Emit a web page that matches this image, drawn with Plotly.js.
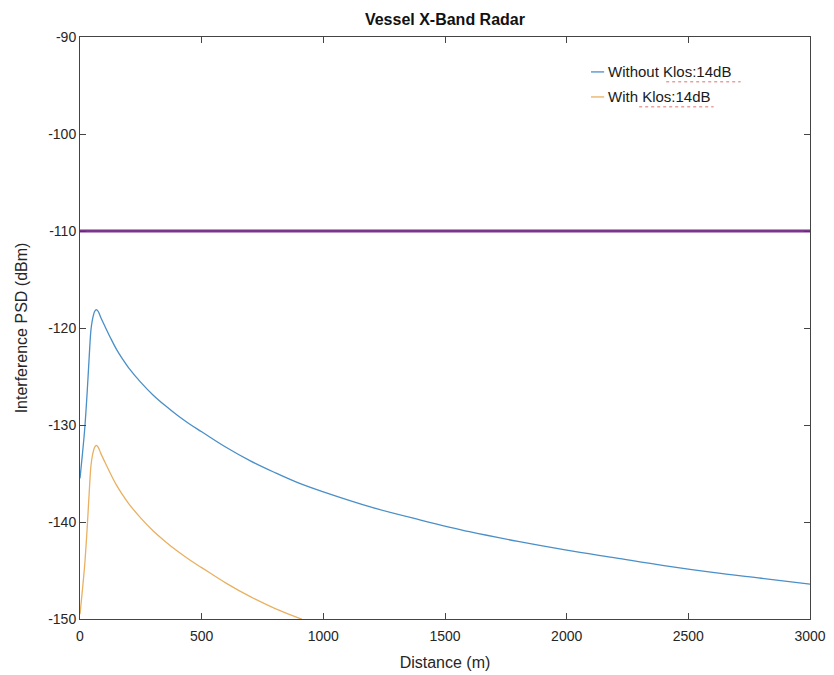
<!DOCTYPE html>
<html>
<head>
<meta charset="utf-8">
<script src="https://cdn.plot.ly/plotly-3.0.1.min.js"></script>
<style>html,body{margin:0;padding:0;background:#fff;}#chart{width:834px;height:675px;}</style>
</head>
<body>
<div id="chart"></div>
<script>
// Data
const distance = [0, 10, 20, 30, 40, 45, 50, 55, 60, 67, 75, 85, 100, 125, 150, 175, 200, 250, 300, 350, 400, 450, 500, 600, 700, 800, 900, 1000, 1200, 1400, 1600, 1800, 2000, 2200, 2400, 2600, 2800, 3000];
const withoutKlos = [-135.5, -133.0, -130.2, -126.4, -122.0, -120.2, -119.3, -118.7, -118.3, -118.1, -118.3, -118.9, -119.7, -121.0, -122.2, -123.2, -124.1, -125.6, -126.9, -128.0, -129.0, -129.9, -130.7, -132.3, -133.7, -134.9, -136.0, -136.9, -138.5, -139.8, -141.0, -142.0, -142.9, -143.7, -144.5, -145.2, -145.8, -146.4];
const distanceWith = [0, 10, 20, 30, 40, 45, 50, 55, 60, 67, 75, 85, 100, 125, 150, 175, 200, 250, 300, 350, 400, 450, 500, 600, 700, 800, 900, 912];
const withKlos = [-149.5, -147.0, -144.2, -140.4, -136.0, -134.2, -133.3, -132.7, -132.3, -132.1, -132.3, -132.9, -133.7, -135.0, -136.2, -137.2, -138.1, -139.6, -140.9, -142.0, -143.0, -143.9, -144.7, -146.3, -147.7, -148.9, -149.9, -150.0];
const thresholdX = [0, 3000];
const thresholdY = [-110, -110];
const seriesNames = ["Without Klos:14dB", "With Klos:14dB"];
const xTicks = [0, 500, 1000, 1500, 2000, 2500, 3000];
const yTicks = [-150, -140, -130, -120, -110, -100, -90];

const colBlue = "#4a8fc7", colOrange = "#e9b062", colPurple = "#7b358b";
const font = "Liberation Sans, Arial, Helvetica, sans-serif";

const traces = [
  {x: distance, y: withoutKlos, name: seriesNames[0], mode: "lines", line: {color: colBlue, width: 1.3, shape: "spline", smoothing: 1}},
  {x: distanceWith, y: withKlos, name: seriesNames[1], mode: "lines", line: {color: colOrange, width: 1.3, shape: "spline", smoothing: 1}},
  {x: thresholdX, y: thresholdY, name: "threshold", mode: "lines", line: {color: colPurple, width: 3}}
];

// legend drawn manually (MATLAB style, short samples, no box)
const legY = [0.940, 0.897];
const shapes = [];
const annotations = [];
[colBlue, colOrange].forEach((c, i) => {
  shapes.push({type: "line", xref: "paper", yref: "paper", x0: 0.700, x1: 0.718, y0: legY[i], y1: legY[i], line: {color: c, width: 1.3}});
  annotations.push({xref: "paper", yref: "paper", x: 0.7205, y: legY[i], xanchor: "left", yanchor: "middle", showarrow: false,
    text: seriesNames[i], font: {family: font, size: 15, color: "#1a1a1a"}});
});
// red dotted spell-check underlines under "Klos:14dB"
shapes.push({type: "line", xref: "paper", yref: "paper", x0: 0.803, x1: 0.905, y0: 0.923, y1: 0.923, line: {color: "#e07070", width: 1, dash: "dot"}});
shapes.push({type: "line", xref: "paper", yref: "paper", x0: 0.766, x1: 0.868, y0: 0.880, y1: 0.880, line: {color: "#e07070", width: 1, dash: "dot"}});

const axisCommon = {
  showgrid: false, zeroline: false, showline: true, linecolor: "#444", linewidth: 1,
  mirror: "ticks", ticks: "inside", ticklen: 6, tickcolor: "#444",
  tickfont: {family: font, size: 14, color: "#262626"}
};

const layout = {
  width: 834, height: 675,
  margin: {l: 80, r: 24, t: 37, b: 56},
  paper_bgcolor: "#fff", plot_bgcolor: "#fff",
  showlegend: false,
  title: {text: "<b>Vessel X-Band Radar</b>", x: 0.5335, xanchor: "center", y: 0.972, yanchor: "middle",
    font: {family: font, size: 16, color: "#111"}},
  xaxis: Object.assign({}, axisCommon, {range: [0, 3000], tickvals: xTicks, ticktext: xTicks.map(String), ticklabelstandoff: 4,
    title: {text: "Distance (m)", font: {family: font, size: 16, color: "#262626"}, standoff: 14}}),
  yaxis: Object.assign({}, axisCommon, {range: [-150, -90], tickvals: yTicks, ticktext: yTicks.map(String),
    title: {text: "Interference PSD (dBm)", font: {family: font, size: 16, color: "#262626"}, standoff: 16}}),
  shapes: shapes,
  annotations: annotations
};

Plotly.newPlot("chart", traces, layout, {displayModeBar: false, staticPlot: true});
</script>
</body>
</html>
